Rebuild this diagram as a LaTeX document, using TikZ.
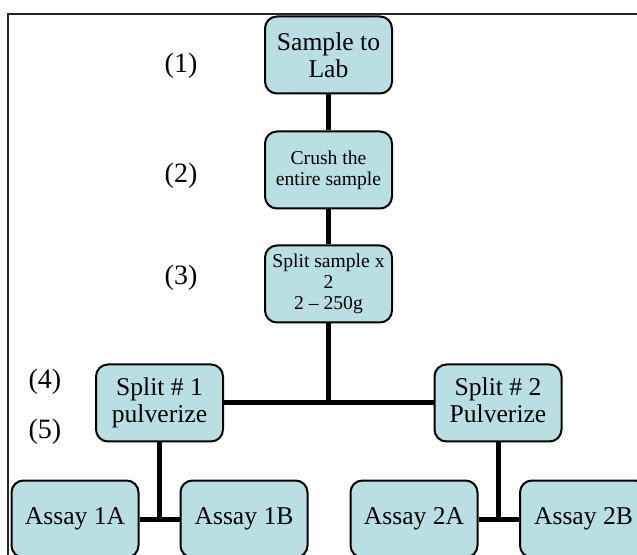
\documentclass[tikz,border=0pt]{standalone}
\usepackage{fontspec}
\setmainfont{Liberation Serif}
\definecolor{boxfill}{RGB}{185,223,227}

\tikzset{
  stage/.style={draw=black, line width=1pt, fill=boxfill, rounded corners=6pt,
    minimum width=63.5pt, minimum height=38.5pt, inner sep=1pt, align=center,
    font=\fontsize{12.8}{13.5}\selectfont},
  smalltext/.style={font=\fontsize{9.8}{10.6}\selectfont},
  steplabel/.style={font=\fontsize{14}{15}\selectfont},
  link/.style={line width=2.5pt}
}

\begin{document}
\begin{tikzpicture}[x=0.5pt, y=-0.5pt]
    \useasboundingbox (0,0) rectangle (637,555);
    \clip (0,0) rectangle (637,555);
    % outer frame
    \draw [line width=0.8pt, black!85] (8,14) rectangle (660,580);

    % main column
    \node [stage] (lab) at (328.5,55) {Sample to\\Lab};
    \node [stage, smalltext] (crush) at (328.5,170) {Crush the\\entire sample};
    \node [stage, smalltext] (split) at (328.5,284) {Split sample x\\2\\2 -- 250g};

    % the two splits
    \node [stage] (splitA) at (159.5,403) {Split \# 1\\pulverize};
    \node [stage] (splitB) at (498,403) {Split \# 2\\Pulverize\vphantom{p}};

    % assays
    \node [stage] (assayA1) at (75,519) {Assay 1A};
    \node [stage] (assayB1) at (244,519) {Assay 1B};
    \node [stage] (assayA2) at (414,519) {Assay 2A};
    \node [stage] (assayB2) at (583.5,519) {Assay 2B};

    % step numbers
    \node [steplabel] (n1) at (181,66) {(1)};
    \node [steplabel] (n2) at (181,176) {(2)};
    \node [steplabel] (n3) at (181,278) {(3)};
    \node [steplabel] (n4) at (45,382) {(4)};
    \node [steplabel] (n5) at (45,432) {(5)};

    % connectors
    \coordinate (bus) at (split.south |- splitA.east);
    \coordinate (forkA) at (splitA.south |- assayA1.east);
    \coordinate (forkB) at (splitB.south |- assayA2.east);
    \draw [link] (lab) -- (crush);
    \draw [link] (crush) -- (split);
    \draw [link] (split) -- (bus);
    \draw [link] (splitA) -- (splitB);
    \draw [link] (splitA) -- (forkA);
    \draw [link] (assayA1) -- (assayB1);
    \draw [link] (splitB) -- (forkB);
    \draw [link] (assayA2) -- (assayB2);
\end{tikzpicture}
\end{document}
